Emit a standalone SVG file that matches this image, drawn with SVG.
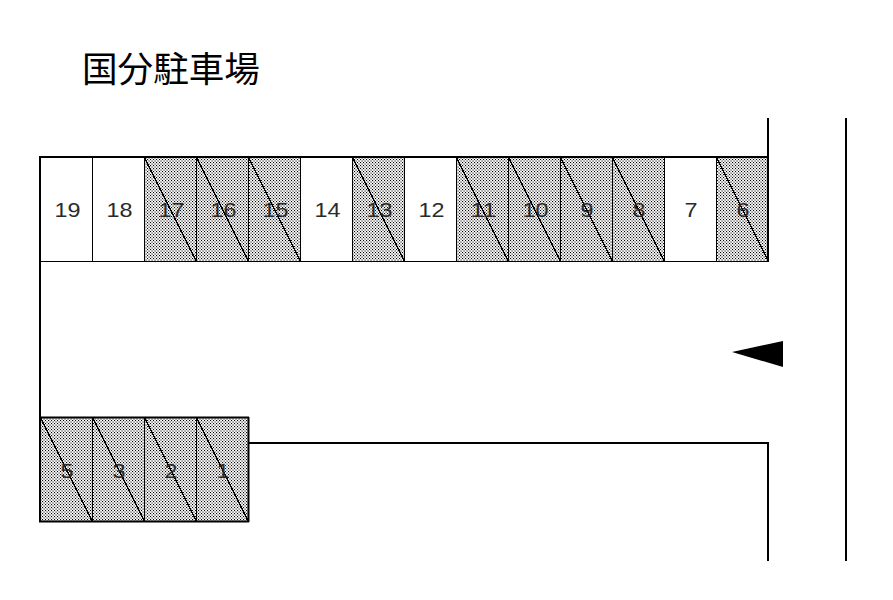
<svg xmlns="http://www.w3.org/2000/svg" width="893" height="600" viewBox="0 0 893 600">
<style>
.num{font-family:"Liberation Sans",Arial,sans-serif;font-size:21px;fill:#2a2a2a;text-anchor:middle;font-weight:400}
.title{font-family:"Noto Sans CJK JP","Noto Sans CJK SC",sans-serif;font-size:35.6px;fill:#000}
.cell{fill:#fff;stroke:#000;stroke-width:1}
.hat{fill:url(#dots);stroke:#000;stroke-width:1}
.diag{stroke:#000;stroke-width:1;fill:none;shape-rendering:crispEdges}
.wall{stroke:#000;stroke-width:2;fill:none}
</style>
<defs>
<pattern id="dots" width="3" height="3" patternUnits="userSpaceOnUse">
<rect width="3" height="3" fill="#fff"/>
<rect x="0" y="0" width="1.1" height="1.1" fill="#000"/>
<rect x="1.5" y="1.5" width="1.1" height="1.1" fill="#000"/>
</pattern>
</defs>
<rect width="893" height="600" fill="#fff"/>
<text class="title" x="82" y="82">国分駐車場</text>
<g id="s19"><rect class="cell" x="40.5" y="157.5" width="52" height="104"/><text class="num" x="67.500" y="217" textLength="26" lengthAdjust="spacingAndGlyphs">19</text></g>
<g id="s18"><rect class="cell" x="92.5" y="157.5" width="52" height="104"/><text class="num" x="119.500" y="217" textLength="26" lengthAdjust="spacingAndGlyphs">18</text></g>
<g id="s17"><rect class="hat" x="144.500" y="157.5" width="52" height="104"/><path class="diag" d="M144.500 157.500L196.500 261.500"/><text class="num" x="171.500" y="217" textLength="26" lengthAdjust="spacingAndGlyphs">17</text></g>
<g id="s16"><rect class="hat" x="196.500" y="157.5" width="52" height="104"/><path class="diag" d="M196.500 157.500L248.500 261.500"/><text class="num" x="223.500" y="217" textLength="26" lengthAdjust="spacingAndGlyphs">16</text></g>
<g id="s15"><rect class="hat" x="248.500" y="157.5" width="52" height="104"/><path class="diag" d="M248.500 157.500L300.500 261.500"/><text class="num" x="275.500" y="217" textLength="26" lengthAdjust="spacingAndGlyphs">15</text></g>
<g id="s14"><rect class="cell" x="300.500" y="157.5" width="52" height="104"/><text class="num" x="327.500" y="217" textLength="26" lengthAdjust="spacingAndGlyphs">14</text></g>
<g id="s13"><rect class="hat" x="352.500" y="157.5" width="52" height="104"/><path class="diag" d="M352.500 157.500L404.500 261.500"/><text class="num" x="379.500" y="217" textLength="26" lengthAdjust="spacingAndGlyphs">13</text></g>
<g id="s12"><rect class="cell" x="404.500" y="157.5" width="52" height="104"/><text class="num" x="431.500" y="217" textLength="26" lengthAdjust="spacingAndGlyphs">12</text></g>
<g id="s11"><rect class="hat" x="456.500" y="157.5" width="52" height="104"/><path class="diag" d="M456.500 157.500L508.500 261.500"/><text class="num" x="483.500" y="217" textLength="26" lengthAdjust="spacingAndGlyphs">11</text></g>
<g id="s10"><rect class="hat" x="508.500" y="157.5" width="52" height="104"/><path class="diag" d="M508.500 157.500L560.500 261.500"/><text class="num" x="535.500" y="217" textLength="26" lengthAdjust="spacingAndGlyphs">10</text></g>
<g id="s9"><rect class="hat" x="560.500" y="157.5" width="52" height="104"/><path class="diag" d="M560.500 157.500L612.500 261.500"/><text class="num" x="587" y="217" textLength="13" lengthAdjust="spacingAndGlyphs">9</text></g>
<g id="s8"><rect class="hat" x="612.500" y="157.5" width="52" height="104"/><path class="diag" d="M612.500 157.500L664.500 261.500"/><text class="num" x="639" y="217" textLength="13" lengthAdjust="spacingAndGlyphs">8</text></g>
<g id="s7"><rect class="cell" x="664.500" y="157.5" width="52" height="104"/><text class="num" x="691" y="217" textLength="13" lengthAdjust="spacingAndGlyphs">7</text></g>
<g id="s6"><rect class="hat" x="716.500" y="157.5" width="52" height="104"/><path class="diag" d="M716.500 157.500L768.500 261.500"/><text class="num" x="743" y="217" textLength="13" lengthAdjust="spacingAndGlyphs">6</text></g>
<g id="s5"><rect class="hat" x="40.500" y="417.500" width="52" height="104"/><path class="diag" d="M40.500 417.500L92.500 521.500"/><text class="num" x="67" y="478" textLength="13" lengthAdjust="spacingAndGlyphs">5</text></g>
<g id="s3"><rect class="hat" x="92.500" y="417.500" width="52" height="104"/><path class="diag" d="M92.500 417.500L144.500 521.500"/><text class="num" x="119" y="478" textLength="13" lengthAdjust="spacingAndGlyphs">3</text></g>
<g id="s2"><rect class="hat" x="144.500" y="417.500" width="52" height="104"/><path class="diag" d="M144.500 417.500L196.500 521.500"/><text class="num" x="171" y="478" textLength="13" lengthAdjust="spacingAndGlyphs">2</text></g>
<g id="s1"><rect class="hat" x="196.500" y="417.500" width="52" height="104"/><path class="diag" d="M196.500 417.500L248.500 521.500"/><text class="num" x="223" y="478" textLength="13" lengthAdjust="spacingAndGlyphs">1</text></g>
<g id="connectors">
<path class="wall" d="M40 156V522M39 157H769M768 118V261M39 521.500H249M248.500 417V522M39 417.500H249M248 443H768V561M846 118V561"/>
<path d="M732 352L783 341V367Z" fill="#000"/>
</g>
</svg>
